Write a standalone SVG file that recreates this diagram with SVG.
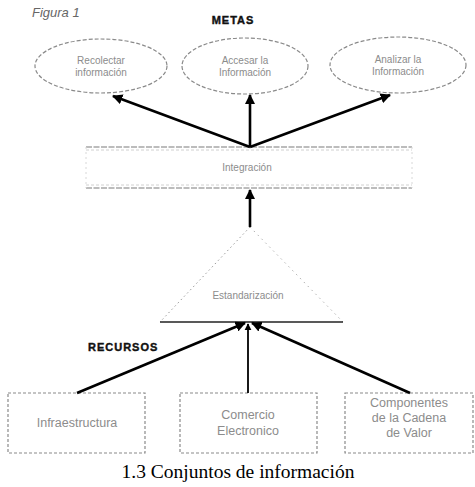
<svg xmlns="http://www.w3.org/2000/svg" width="475" height="487" viewBox="0 0 475 487">
  <defs>
    <marker id="arrow" viewBox="0 0 10 10" refX="9" refY="5" markerWidth="4" markerHeight="4" orient="auto" markerUnits="strokeWidth">
      <path d="M0,0 L10,5 L0,10 z" fill="#000"/>
    </marker>
    <style>
      .goal { fill: #fff; stroke: #8a8a8a; stroke-width: 1.2; stroke-dasharray: 4 2; }
      .res { fill: #fff; stroke: #8a8a8a; stroke-width: 1.2; stroke-dasharray: 3 2; }
      .lbl { font-family: "Liberation Sans", Arial, sans-serif; fill: #8c8c8c; text-anchor: middle; }
      .small { font-size: 10px; }
      .mid { font-size: 12.5px; }
      .head { font-family: "Liberation Sans", Arial, sans-serif; font-weight: bold; font-size: 11px; letter-spacing: 1px; fill: #111; stroke: #111; stroke-width: 0.4; }
      .conn { stroke: #000; stroke-width: 2.6; fill: none; marker-end: url(#arrow); }
    </style>
  </defs>

  <rect width="475" height="487" fill="#fff"/>

  <text x="32" y="17" font-family="'Liberation Sans', Arial, sans-serif" font-style="italic" font-size="13" fill="#666">Figura 1</text>
  <text x="233" y="24" class="head" text-anchor="middle">METAS</text>
  <text x="88" y="351" class="head">RECURSOS</text>

  <!-- goals -->
  <g id="recolectar">
    <ellipse class="goal" cx="101" cy="66" rx="66" ry="27"/>
    <text class="lbl small" x="101" y="64">Recolectar</text>
    <text class="lbl small" x="101" y="76">información</text>
  </g>
  <g id="accesar">
    <ellipse class="goal" cx="245" cy="66" rx="63" ry="28"/>
    <text class="lbl small" x="245" y="64">Accesar la</text>
    <text class="lbl small" x="245" y="76">Información</text>
  </g>
  <g id="analizar">
    <ellipse class="goal" cx="398" cy="65" rx="68" ry="28"/>
    <text class="lbl small" x="398" y="63">Analizar la</text>
    <text class="lbl small" x="398" y="75">Información</text>
  </g>

  <!-- integration band -->
  <g id="integracion">
    <line x1="86" y1="147" x2="412" y2="147" stroke="#7a7a7a" stroke-width="1.2" stroke-dasharray="6 1.5"/>
    <line x1="86" y1="150" x2="412" y2="150" stroke="#d0d0d0" stroke-width="1" stroke-dasharray="3 2"/>
    <line x1="86" y1="185" x2="412" y2="185" stroke="#d0d0d0" stroke-width="1" stroke-dasharray="3 2"/>
    <line x1="86" y1="188" x2="412" y2="188" stroke="#7a7a7a" stroke-width="1.2" stroke-dasharray="6 1.5"/>
    <line x1="86" y1="147" x2="86" y2="188" stroke="#d8d8d8" stroke-width="1" stroke-dasharray="2 3"/>
    <line x1="412" y1="147" x2="412" y2="188" stroke="#d8d8d8" stroke-width="1" stroke-dasharray="2 3"/>
    <text class="lbl small" x="247" y="171">Integración</text>
  </g>

  <!-- standardisation triangle -->
  <g id="estandarizacion">
    <path d="M250,227 L160,322" stroke="#9a9a9a" stroke-width="1" stroke-dasharray="1.5 3" fill="none"/>
    <path d="M250,227 L343,322" stroke="#b0b0b0" stroke-width="1" stroke-dasharray="1.5 4" fill="none"/>
    <line x1="160" y1="322" x2="343" y2="322" stroke="#222" stroke-width="1.3"/>
    <text class="lbl small" x="248" y="299">Estandarización</text>
  </g>

  <!-- resources -->
  <g id="infraestructura">
    <rect class="res" x="8" y="393" width="137" height="60"/>
    <text class="lbl mid" x="77" y="427">Infraestructura</text>
  </g>
  <g id="comercio">
    <rect class="res" x="180" y="393" width="137" height="60"/>
    <text class="lbl mid" x="248" y="419">Comercio</text>
    <text class="lbl mid" x="248" y="435">Electronico</text>
  </g>
  <g id="componentes">
    <rect class="res" x="345" y="393" width="128" height="60"/>
    <text class="lbl mid" x="409" y="407">Componentes</text>
    <text class="lbl mid" x="409" y="422">de la Cadena</text>
    <text class="lbl mid" x="409" y="437">de Valor</text>
  </g>

  <!-- connectors -->
  <g id="connectors">
    <line class="conn" x1="250" y1="147" x2="113" y2="96"/>
    <line class="conn" x1="250" y1="147" x2="250" y2="95"/>
    <line class="conn" x1="250" y1="147" x2="390" y2="95"/>
    <line class="conn" x1="250" y1="227" x2="250" y2="190"/>
    <line class="conn" x1="77" y1="393" x2="245" y2="323"/>
    <line class="conn" x1="248" y1="393" x2="248" y2="324" style="stroke-width:1.8"/>
    <line class="conn" x1="410" y1="393" x2="252" y2="323"/>
  </g>

  <text x="238" y="478" font-family="'Liberation Serif', 'Times New Roman', serif" font-size="19.5" fill="#000" text-anchor="middle">1.3 Conjuntos de información</text>
</svg>
